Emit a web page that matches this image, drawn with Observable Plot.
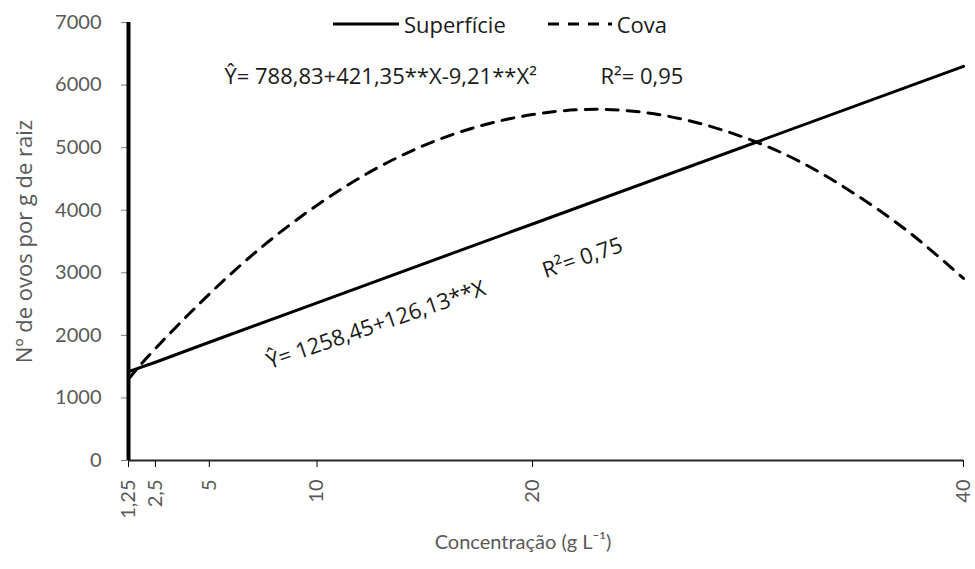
<!DOCTYPE html>
<html>
<head>
<meta charset="utf-8">
<script src="https://cdn.jsdelivr.net/npm/d3@7"></script>
<script src="https://cdn.jsdelivr.net/npm/@observablehq/plot@0.6"></script>
<style>
  body { margin: 0; background: #fff; }
  #chart { position: relative; width: 975px; height: 569px; font-family: Lato, "Open Sans", sans-serif; }
  #legend { position: absolute; top: 9px; left: 333px; display: flex; align-items: center; font-family: "Open Sans", sans-serif; font-size: 22px; color: #1a1a1a; }
  #legend .item { display: flex; align-items: center; margin-right: 42px; }
  #legend svg { margin-right: 5px; }
</style>
</head>
<body>
<div id="chart"><div id="legend"></div></div>
<script>
// Concentration levels (g L-1) along the x axis
const concentracao = [1.25, 2.5, 5, 7.5, 10, 12.5, 15, 17.5, 20, 22.5, 25, 27.5, 30, 32.5, 35, 37.5, 40];
// Eggs per g of root, pit application (quadratic fit)
const cova = [1300, 1790, 2660, 3430, 4080, 4620, 5040, 5340, 5530, 5610, 5570, 5410, 5140, 4760, 4250, 3640, 2910];
// Eggs per g of root, surface application (linear fit)
const superficieX = [1.25, 2.5, 5, 10, 20, 40];
const superficie = [1420, 1570, 1890, 2520, 3780, 6300];

const xTicks = [1.25, 2.5, 5, 10, 20, 40];
const yTicks = [0, 1000, 2000, 3000, 4000, 5000, 6000, 7000];
const seriesNames = ["Superfície", "Cova"];

const covaData = concentracao.map((x, i) => ({x, y: cova[i]}));
const superficieData = superficieX.map((x, i) => ({x, y: superficie[i]}));

const ink = "#1a1a1a";
const grey = "#595959";
const eqFont = "'Open Sans', sans-serif";

// Legend drawn above the plot frame
const legend = document.getElementById("legend");
[["none", seriesNames[0], 66], ["11,9", seriesNames[1], 64]].forEach(([dash, name, w]) => {
  const item = document.createElement("div");
  item.className = "item";
  item.innerHTML = `<svg width="${w}" height="10"><line x1="0" x2="${w}" y1="5" y2="5" stroke="#000" stroke-width="3" ${dash === "none" ? "" : `stroke-dasharray="${dash}"`}/></svg><span>${name}</span>`;
  legend.appendChild(item);
});

const plot = Plot.plot({
  width: 975,
  height: 569,
  marginLeft: 128,
  marginRight: 12,
  marginTop: 22,
  marginBottom: 109,
  style: { fontFamily: "Lato, 'Open Sans', sans-serif", background: "transparent" },
  x: { domain: [1.25, 40] },
  y: { domain: [0, 7000] },
  marks: [
    Plot.axisY(yTicks, {
      tickSize: 7, tickPadding: 20, fontSize: 20,
      fill: grey, stroke: "#7f7f7f",
      tickFormat: d => String(d),
      label: null
    }),
    Plot.text(["Nº de ovos por g de raiz"], {
      frameAnchor: "left", textAnchor: "middle", dx: -104, rotate: -90, fontSize: 22, fill: grey, fontFamily: eqFont
    }),
    Plot.axisX(xTicks, {
      tickSize: 7, tickPadding: 12, tickRotate: -90, fontSize: 20,
      fill: grey, stroke: "#000",
      tickFormat: d => String(d).replace(".", ","),
      label: null
    }),
    Plot.text(["Concentração (g L⁻¹)"], {
      frameAnchor: "bottom", dy: 88, dx: -23, fontSize: 20, fill: grey
    }),
    Plot.ruleY([0], { stroke: "#262626", strokeWidth: 2 }),
    Plot.ruleX([1.25], { y1: 0, y2: 7000, stroke: "#000", strokeWidth: 4 }),
    Plot.line(superficieData, { x: "x", y: "y", stroke: "#000", strokeWidth: 3 }),
    Plot.line(covaData, { x: "x", y: "y", stroke: "#000", strokeWidth: 3, strokeDasharray: "12,9", curve: "natural" }),
    // Fitted equations
    Plot.text(["Ŷ= 788,83+421,35**X-9,21**X²"], { x: 5.7, y: 6137, textAnchor: "start", fontSize: 22, fill: ink, fontFamily: eqFont }),
    Plot.text(["R²= 0,95"], { x: 23.15, y: 6137, textAnchor: "start", fontSize: 22, fill: ink, fontFamily: eqFont }),
    Plot.text(["Ŷ= 1258,45+126,13**X"], { x: 7.7, y: 1566, textAnchor: "start", fontSize: 22, fill: ink, fontFamily: eqFont, rotate: -19 }),
    Plot.text(["R²= 0,75"], { x: 20.5, y: 3020, textAnchor: "start", fontSize: 22, fill: ink, fontFamily: eqFont, rotate: -19 })
  ]
});

document.getElementById("chart").appendChild(plot);
plot.style.position = "absolute";
plot.style.left = "0";
plot.style.top = "0";
</script>
</body>
</html>
